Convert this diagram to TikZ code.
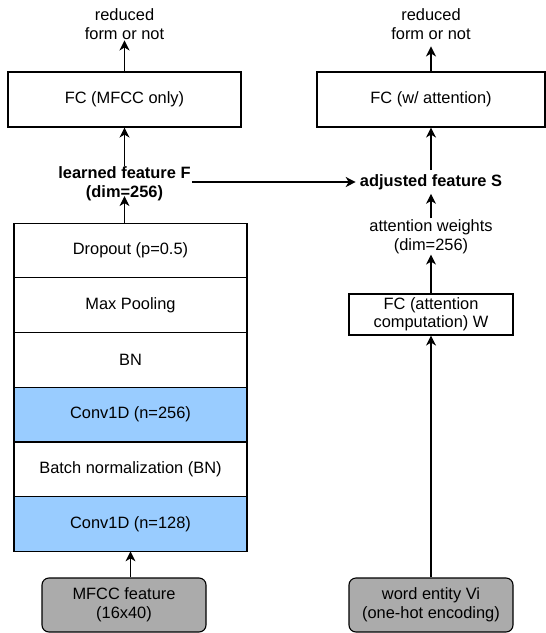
\documentclass[tikz,border=0pt]{standalone}
\usepackage{fontspec}
\setmainfont{Liberation Sans}
\usepackage{tikz}
\usetikzlibrary{arrows.meta,positioning,calc}
\definecolor{convblue}{HTML}{99CCFF}
\definecolor{inputgray}{HTML}{ABABAB}

\begin{document}
\begin{tikzpicture}[
        x=1pt, y=-1pt,
        font=\fontsize{16.4}{18.5}\selectfont,
        layer/.style={draw, line width=1.1pt, minimum width=233pt, minimum height=54.7pt, inner sep=0pt, outer sep=0pt, align=center},
        fcbox/.style={draw, line width=1.1pt, minimum width=233pt, minimum height=55pt, align=center},
        inbox/.style={draw, line width=1.1pt, fill=inputgray, rounded corners=7pt, minimum width=164pt, minimum height=54pt, align=center},
        lbl/.style={inner sep=1pt, align=center},
        arrow/.style={-{Stealth[length=10pt, width=10pt, inset=3pt]}, line width=1.1pt}
    ]
    \useasboundingbox (0,0) rectangle (546,633);

    % MFCC branch
    \node[layer] (drop) at (130.5,250.5) {Dropout (p=0.5)};
    \node[layer, below=0pt of drop] (pool) {Max Pooling};
    \node[layer, below=0pt of pool] (bn2) {BN};
    \node[layer, below=0pt of bn2, fill=convblue] (conv2) {Conv1D (n=256)};
    \node[layer, below=0pt of conv2] (bn1) {Batch normalization (BN)};
    \node[layer, below=0pt of bn1, fill=convblue] (conv1) {Conv1D (n=128)};
    \node[inbox] (mfcc) at (124,605) {MFCC feature\\(16x40)};
    \node[lbl, font=\fontsize{16.4}{18.5}\selectfont\bfseries] (feat) at (124.5,184) {learned feature F\\(dim=256)};
    \node[fcbox] (fc1) at (124.5,99.5) {FC (MFCC only)};
    \node[lbl] (out1) at (124.5,24) {reduced\\form or not};

    % attention branch
    \node[fcbox, minimum width=228pt] (fc2) at (431,99.5) {FC (w/ attention)};
    \node[lbl] (out2) at (431,24) {reduced\\form or not};
    \node[lbl, inner sep=4pt, font=\fontsize{16.4}{18.5}\selectfont\bfseries] (adj) at (431,182) {adjusted feature S};
    \node[lbl] (attw) at (431,236.5) {attention weights\\(dim=256)};
    \node[draw, line width=1.1pt, minimum width=164pt, minimum height=41pt, align=center] (attfc) at (431,314.5) {FC (attention\\computation) W};
    \node[inbox] (word) at (431,605) {word entity Vi\\(one-hot encoding)};

    \draw[arrow] (mfcc.north -| conv1.south) -- (conv1.south);
    \draw[arrow, shorten >=-6pt] (drop.north -| feat) -- (feat.south);
    \draw[arrow] (feat.north) -- (fc1.south);
    \draw[arrow] (fc1.north) -- (out1.south);
    \draw[arrow] (feat.east |- adj.west) -- (adj.west);
    \draw[arrow] (word.north) -- (attfc.south);
    \draw[arrow] (attfc.north) -- (attw.south);
    \draw[arrow] (attw.north) -- (adj.south);
    \draw[arrow] (adj.north) -- (fc2.south);
    \draw[arrow, shorten >=6pt] (fc2.north) -- (out2.south);
\end{tikzpicture}
\end{document}
